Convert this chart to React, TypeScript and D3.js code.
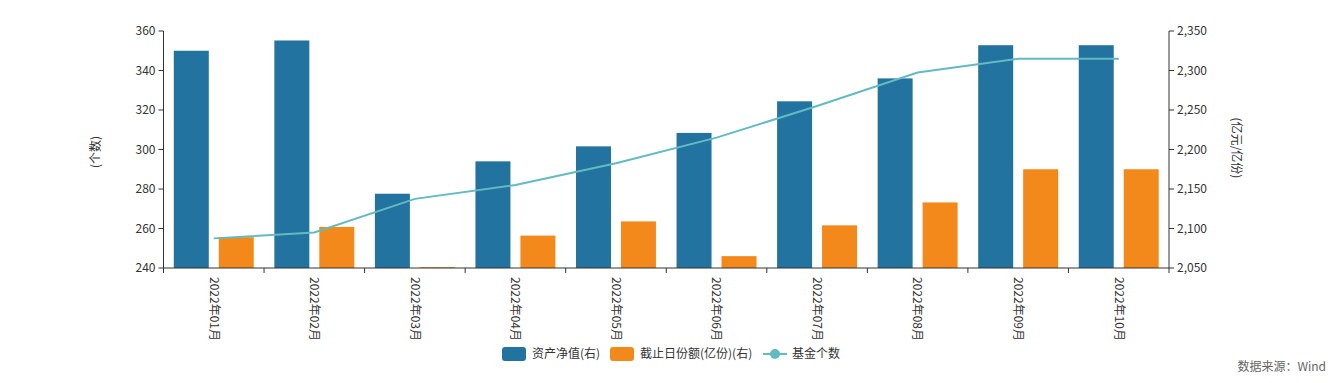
import React from "react";
import * as d3 from "d3";

const categories = ["2022年01月","2022年02月","2022年03月","2022年04月","2022年05月","2022年06月","2022年07月","2022年08月","2022年09月","2022年10月"];
const navValues = [2325, 2338, 2144, 2185, 2204, 2221, 2261, 2290, 2332, 2332];
const shareValues = [2089, 2102, 2051, 2091, 2109, 2065, 2104, 2133, 2175, 2175];
const fundCounts = [255, 258, 275, 282, 293, 306, 322, 339, 346, 346];
const leftTicks = [240, 260, 280, 300, 320, 340, 360];
const rightTicks = [2050, 2100, 2150, 2200, 2250, 2300, 2350];

const W = 1342, H = 383;
const FONT = "'Microsoft YaHei', 'Noto Sans CJK SC', 'Noto Sans', sans-serif";
const BLUE = "#22739f";
const ORANGE = "#f4891b";
const TEAL = "#62bbc1";
const TXT = "#333";

export default function App() {
  const x0 = 163.5, x1 = 1169, yTop = 31, yBot = 268;
  const x = d3.scaleBand<string>().domain(categories).range([x0, x1]).paddingInner(0).paddingOuter(0);
  const xs = d3.scaleBand<string>().domain(["nav", "share"]).range([0, x.bandwidth()]).paddingInner(0.222).paddingOuter(0.229);
  const yL = d3.scaleLinear().domain([240, 360]).range([yBot, yTop]);
  const yR = d3.scaleLinear().domain([2050, 2350]).range([yBot, yTop]);
  const cx = (c: string) => (x(c) as number) + x.bandwidth() / 2;
  const line = d3.line<number>().x((_, i) => cx(categories[i])).y((d) => yL(d));
  const fmt = d3.format(",");

  return (
    <svg width={W} height={H} style={{ position: "absolute", left: 0, top: 0, fontFamily: FONT }}>
      <rect width={W} height={H} fill="#fff" />
      {/* bars */}
      {categories.map((c, i) => (
        <g key={c}>
          <rect x={(x(c) as number) + (xs("nav") as number)} y={yR(navValues[i])} width={xs.bandwidth()} height={yBot - yR(navValues[i])} fill={BLUE} />
          <rect x={(x(c) as number) + (xs("share") as number)} y={yR(shareValues[i])} width={xs.bandwidth()} height={Math.max(0, yBot - yR(shareValues[i]))} fill={ORANGE} />
        </g>
      ))}
      {/* line */}
      <path d={line(fundCounts) || ""} fill="none" stroke={TEAL} strokeWidth={2} />
      {/* left axis */}
      <line x1={x0} x2={x0} y1={yTop} y2={yBot} stroke={TXT} />
      {leftTicks.map((t) => (
        <g key={t}>
          <line x1={x0 - 5} x2={x0} y1={yL(t)} y2={yL(t)} stroke={TXT} />
          <text x={x0 - 8} y={yL(t)} dy="0.35em" textAnchor="end" fontSize={12} fill={TXT}>{t}</text>
        </g>
      ))}
      {/* right axis */}
      <line x1={x1} x2={x1} y1={yTop} y2={yBot} stroke={TXT} />
      {rightTicks.map((t) => (
        <g key={t}>
          <line x1={x1} x2={x1 + 5} y1={yR(t)} y2={yR(t)} stroke={TXT} />
          <text x={x1 + 8} y={yR(t)} dy="0.35em" textAnchor="start" fontSize={12} fill={TXT}>{fmt(t)}</text>
        </g>
      ))}
      {/* x axis */}
      <line x1={x0} x2={x1} y1={yBot} y2={yBot} stroke={TXT} />
      {categories.map((c) => (
        <line key={"t" + c} x1={x(c) as number} x2={x(c) as number} y1={yBot} y2={yBot + 5} stroke={TXT} />
      ))}
      <line x1={x1} x2={x1} y1={yBot} y2={yBot + 5} stroke={TXT} />
      {categories.map((c) => (
        <text key={"l" + c} transform={`translate(${cx(c)},${yBot + 9}) rotate(90)`} dy="0.35em" textAnchor="start" fontSize={12} fill={TXT}>{c}</text>
      ))}
      {/* axis titles */}
      <text transform={`translate(96,152) rotate(-90)`} dy="0.35em" textAnchor="middle" fontSize={12} fill={TXT}>(个数)</text>
      <text transform={`translate(1236,148) rotate(90)`} dy="0.35em" textAnchor="middle" fontSize={12} fill={TXT}>(亿元/亿份)</text>
      {/* legend */}
      <rect x={502} y={347} width={24} height={14} rx={3} fill={BLUE} />
      <text x={532} y={354} dy="0.35em" fontSize={12} fill={TXT}>资产净值(右)</text>
      <rect x={610} y={347} width={24} height={14} rx={3} fill={ORANGE} />
      <text x={640} y={354} dy="0.35em" fontSize={12} fill={TXT}>截止日份额(亿份)(右)</text>
      <line x1={763} x2={787} y1={354} y2={354} stroke={TEAL} strokeWidth={2} />
      <circle cx={775} cy={354} r={5} fill={TEAL} />
      <text x={792} y={354} dy="0.35em" fontSize={12} fill={TXT}>基金个数</text>
      {/* source */}
      <text x={1326} y={367} dy="0.35em" textAnchor="end" fontSize={12} fill="#666">数据来源：Wind</text>
    </svg>
  );
}
